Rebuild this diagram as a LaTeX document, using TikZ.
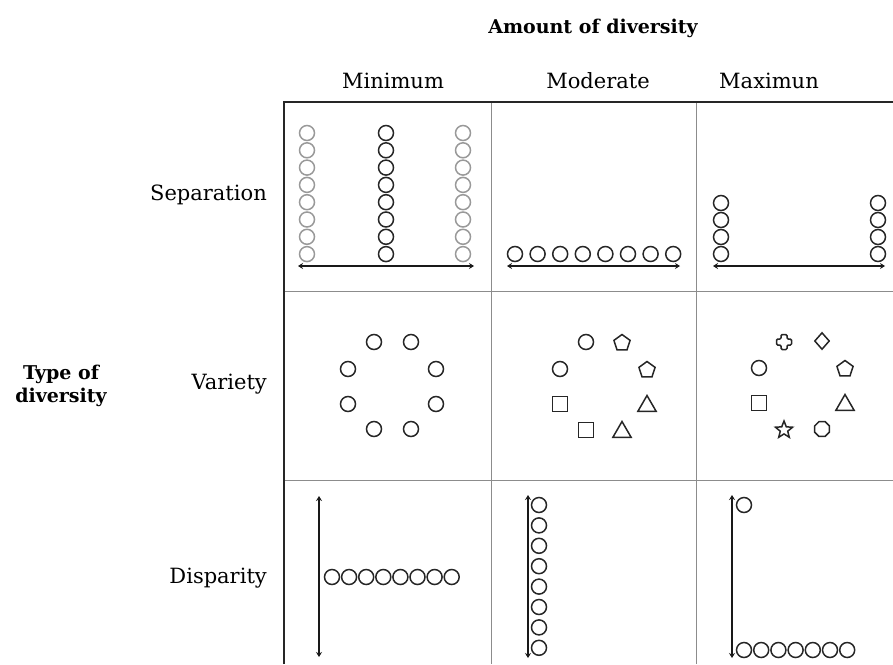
\documentclass[tikz,border=0pt]{standalone}
\usepackage{fontspec}
\setmainfont{DejaVu Serif}
\usetikzlibrary{shapes.geometric,arrows.meta}
\begin{document}
\begin{tikzpicture}[x=1pt,y=-1pt,
  ball/.style={circle,draw=black!85,line width=1.5pt,minimum size=15pt,inner sep=0pt},
  pale/.style={ball,draw=black!40},
  shp/.style={draw=black!85,line width=1.5pt,inner sep=0pt},
  gridline/.style={draw=black!45,line width=0.7pt},
  frameline/.style={draw=black!85,line width=2.2pt},
  rng/.style={draw=black!90,line width=2.6pt,{Stealth[length=5pt,width=6pt]}-{Stealth[length=5pt,width=6pt]}},
  lbl/.style={font=\fontsize{21}{25}\selectfont,anchor=east,inner sep=0pt},
  head/.style={font=\fontsize{21}{25}\selectfont,inner sep=0pt},
  bhead/.style={font=\bfseries\fontsize{19}{23}\selectfont,inner sep=0pt,align=center}
]
\useasboundingbox (0,0) rectangle (893,664);

% grid
\draw[gridline] (491,102) -- (491,664);
\draw[gridline] (696,102) -- (696,664);
\draw[gridline] (284,291) -- (893,291);
\draw[gridline] (284,480) -- (893,480);
\draw[frameline] (284,664) -- (284,102) -- (893,102);

% headings
\node[bhead] (amount) at (593,28) {Amount of diversity};
\node[head] (cmin) at (393,81) {Minimum};
\node[head] (cmod) at (598,81) {Moderate};
\node[head] (cmax) at (769,81) {Maximun};
\node[lbl] (rsep) at (267,195) {Separation};
\node[lbl] (rvar) at (267,384) {Variety};
\node[lbl] (rdis) at (267,578) {Disparity};
\node[bhead] (type) at (61,386) {Type of\\diversity};

% ---- Separation / Minimum
\foreach \i in {0,...,7} {
  \node[pale] (sal\i) at (307,{133+17.3*\i}) {};
  \node[ball] (sac\i) at (386,{133+17.3*\i}) {};
  \node[pale] (sar\i) at (463,{133+17.3*\i}) {};
}
\coordinate (sa1) at (298,266);
\coordinate (sa2) at (474,266);
\draw[rng] (sa1) -- (sa2);

% ---- Separation / Moderate
\foreach \i in {0,...,7} {
  \node[ball] (sb\i) at ({515+22.6*\i},254) {};
}
\coordinate (sb1) at (507,266);
\coordinate (sb2) at (680,266);
\draw[rng] (sb1) -- (sb2);

% ---- Separation / Maximum
\foreach \i in {0,...,3} {
  \node[ball] (scl\i) at (721,{203+17*\i}) {};
  \node[ball] (scr\i) at (878,{203+17*\i}) {};
}
\coordinate (sc1) at (713,266);
\coordinate (sc2) at (885,266);
\draw[rng] (sc1) -- (sc2);

% ---- Variety / Minimum
\node[ball] (va1) at (374,342) {};
\node[ball] (va2) at (411,342) {};
\node[ball] (va3) at (348,369) {};
\node[ball] (va4) at (436,369) {};
\node[ball] (va5) at (348,404) {};
\node[ball] (va6) at (436,404) {};
\node[ball] (va7) at (374,429) {};
\node[ball] (va8) at (411,429) {};

% ---- Variety / Moderate
\node[ball] (vb1) at (586,342) {};
\node[shp,regular polygon,regular polygon sides=5,minimum size=17pt] (vb2) at (622,343) {};
\node[ball] (vb3) at (560,369) {};
\node[shp,regular polygon,regular polygon sides=5,minimum size=17pt] (vb4) at (647,370) {};
\node[shp,rectangle,minimum size=15pt] (vb5) at (560,404) {};
\node[shp,regular polygon,regular polygon sides=3,minimum size=21pt] (vb6) at (647,406) {};
\node[shp,rectangle,minimum size=15pt] (vb7) at (586,430) {};
\node[shp,regular polygon,regular polygon sides=3,minimum size=21pt] (vb8) at (622,432) {};

% ---- Variety / Maximum
\coordinate (vc1) at (784,342);
\draw[shp,rounded corners=1.2pt,shift={(vc1)}]
  (-3,-7.5) -- (3,-7.5) -- (3,-3) -- (7.5,-3) -- (7.5,3) -- (3,3) -- (3,7.5)
  -- (-3,7.5) -- (-3,3) -- (-7.5,3) -- (-7.5,-3) -- (-3,-3) -- cycle;
\node[shp,diamond,minimum width=15pt,minimum height=17pt] (vc2) at (822,341) {};
\node[ball] (vc3) at (759,368) {};
\node[shp,regular polygon,regular polygon sides=5,minimum size=17pt] (vc4) at (845,369) {};
\node[shp,rectangle,minimum size=15pt] (vc5) at (759,403) {};
\node[shp,regular polygon,regular polygon sides=3,minimum size=21pt] (vc6) at (845,405) {};
\node[shp,star,star points=5,star point ratio=2.3,minimum size=18pt] (vc7) at (784,430) {};
\node[shp,regular polygon,regular polygon sides=8,minimum size=16pt] (vc8) at (822,429) {};

% ---- Disparity / Minimum
\coordinate (da1) at (319,496);
\coordinate (da2) at (319,657);
\draw[rng] (da1) -- (da2);
\foreach \i in {0,...,7} {
  \node[ball] (da\i) at ({332+17.1*\i},577) {};
}

% ---- Disparity / Moderate
\coordinate (db1) at (528,495);
\coordinate (db2) at (528,658);
\draw[rng] (db1) -- (db2);
\foreach \i in {0,...,7} {
  \node[ball] (db\i) at (539,{505+20.4*\i}) {};
}

% ---- Disparity / Maximum
\coordinate (dc1) at (732,495);
\coordinate (dc2) at (732,658);
\draw[rng] (dc1) -- (dc2);
\node[ball] (dctop) at (744,505) {};
\foreach \i in {0,...,6} {
  \node[ball] (dc\i) at ({744+17.2*\i},650) {};
}
\end{tikzpicture}
\end{document}
